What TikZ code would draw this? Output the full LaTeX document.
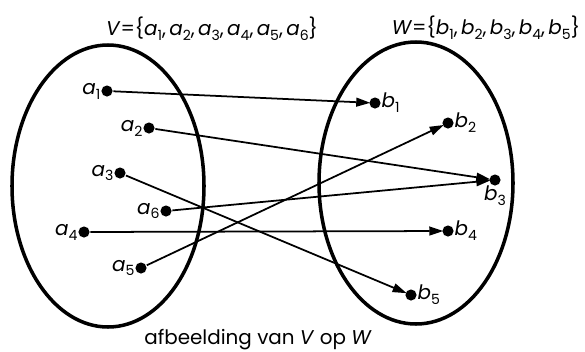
\documentclass[tikz,border=0pt]{standalone}
\usepackage{fontspec}
\setmainfont{Poppins}
\usetikzlibrary{arrows.meta}

% element name with a lowered index
\newcommand{\elt}[2]{\textit{#1}\raisebox{-0.45ex}{\fontsize{12}{12}\selectfont #2}}

\begin{document}
\begin{tikzpicture}[x=0.03cm, y=-0.03cm, line width=1.5pt,
  font=\fontsize{17}{19}\selectfont,
  dot/.style={circle, fill, inner sep=0pt, minimum size=9.5pt},
  maps/.style={-{Triangle[length=12pt, width=7.5pt]}, shorten >=-1.5pt}]

  \useasboundingbox (0,0) rectangle (585,351);

  % de twee verzamelingen
  \draw[line width=3pt] (108,186) ellipse [x radius=96, y radius=141];
  \draw[line width=3pt] (416,183) ellipse [x radius=97, y radius=141];

  \node (tV) at (212,29) {\textit{V}=\{\elt{a}{1},\,\elt{a}{2},\,\elt{a}{3},\,\elt{a}{4},\,\elt{a}{5},\,\elt{a}{6}\}};
  \node[anchor=east, inner sep=1pt] (tW) at (582,28) {\textit{W}=\{\elt{b}{1},\,\elt{b}{2},\,\elt{b}{3},\,\elt{b}{4},\,\elt{b}{5}\}};

  % elementen van V
  \node[dot, label={[xshift=4pt]left:\elt{a}{1}}] (a1) at (107,91) {};
  \node[dot, label={[xshift=4pt]left:\elt{a}{2}}] (a2) at (149,128) {};
  \node[dot, label={[xshift=4pt]left:\elt{a}{3}}] (a3) at (120,173) {};
  \node[dot, label={[xshift=4pt]left:\elt{a}{4}}] (a4) at (84,232) {};
  \node[dot, label={[xshift=4pt]left:\elt{a}{5}}] (a5) at (141,268) {};
  \node[dot, label={[xshift=4pt]left:\elt{a}{6}}] (a6) at (166,211) {};

  % elementen van W
  \node[dot, label={[xshift=-4pt]right:\elt{b}{1}}] (b1) at (375,103) {};
  \node[dot, label={[xshift=-4pt]right:\elt{b}{2}}] (b2) at (448,123) {};
  \node[dot, label={[yshift=5pt]below:\elt{b}{3}}] (b3) at (495,180) {};
  \node[dot, label={[xshift=-4pt]right:\elt{b}{4}}] (b4) at (448,231) {};
  \node[dot, label={[xshift=-4pt]right:\elt{b}{5}}] (b5) at (411,295) {};

  % de afbeelding
  \draw[maps] (a1) -- (b1);
  \draw[maps] (a2) -- (b3);
  \draw[maps] (a3) -- (b5);
  \draw[maps] (a4) -- (b4);
  \draw[maps] (a5) -- (b2);
  \draw[maps] (a6) -- (b3);

  \node (cap) at (258,340) {afbeelding van \textit{V} op \textit{W}};
\end{tikzpicture}
\end{document}
